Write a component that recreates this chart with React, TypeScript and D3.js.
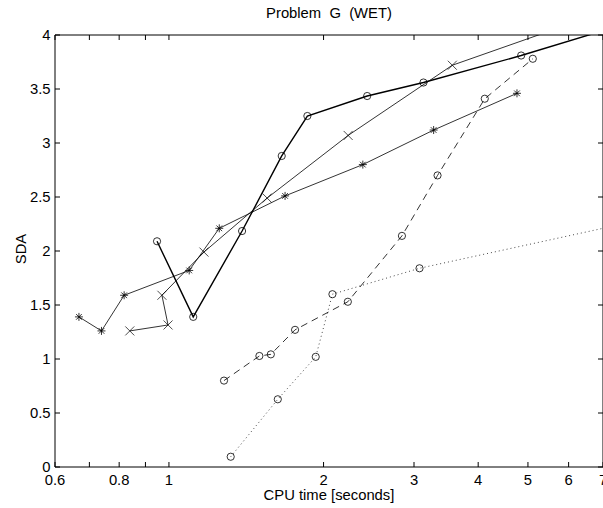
import React from "react";
import * as d3 from "d3";

const W = 603;
const H = 508;

const xTicks = [0.6, 0.7, 0.8, 0.9, 1, 2, 3, 4, 5, 6, 7];
const xTickLabels = ["0.6", "", "0.8", "", "1", "2", "3", "4", "5", "6", "7"];
const yTicks = [0, 0.5, 1, 1.5, 2, 2.5, 3, 3.5, 4];

// series A: solid thick, circles
const aX = [0.948, 1.115, 1.388, 1.658, 1.86, 2.432, 3.13, 4.85, 7.0];
const aY = [2.09, 1.39, 2.185, 2.88, 3.25, 3.435, 3.56, 3.81, 4.04];
// series B: solid thin, x-marks
const bX = [0.839, 0.996, 0.969, 1.17, 1.553, 2.233, 3.562, 7.0];
const bY = [1.26, 1.315, 1.59, 1.99, 2.49, 3.07, 3.72, 4.21];
// series C: solid thin, asterisks
const cX = [0.668, 0.739, 0.818, 1.095, 1.253, 1.683, 2.385, 3.276, 4.76];
const cY = [1.39, 1.26, 1.59, 1.82, 2.21, 2.51, 2.8, 3.12, 3.46];
// series D: dashed, circles
const dX = [1.28, 1.5, 1.579, 1.76, 2.23, 2.842, 3.334, 4.12, 5.11];
const dY = [0.8, 1.028, 1.043, 1.27, 1.53, 2.14, 2.7, 3.41, 3.78];
// series E: dotted, circles
const eX = [1.319, 1.629, 1.931, 2.081, 3.075, 8.0];
const eY = [0.095, 0.627, 1.02, 1.6, 1.84, 2.27];

const x = d3.scaleLog().domain([0.6, 7]).range([55, 603]);
const y = d3.scaleLinear().domain([0, 4]).range([467, 35]);

const font = "'Liberation Sans', Arial, Helvetica, sans-serif";
const FS = 14.8;

type Pt = [number, number];
const zip = (xs: number[], ys: number[]): Pt[] => xs.map((v, i) => [v, ys[i]]);
const line = d3
  .line<Pt>()
  .x((d) => x(d[0]))
  .y((d) => y(d[1]));

const inside = (d: Pt) => d[0] >= 0.6 && d[0] <= 7 && d[1] >= 0 && d[1] <= 4;

function Circles({ pts }: { pts: Pt[] }) {
  return (
    <g>
      {pts.filter(inside).map((d, i) => (
        <circle key={i} cx={x(d[0])} cy={y(d[1])} r={3.6} fill="none" stroke="#000" strokeWidth={0.8} />
      ))}
    </g>
  );
}

function Crosses({ pts }: { pts: Pt[] }) {
  const s = 4.5;
  return (
    <g>
      {pts.filter(inside).map((d, i) => {
        const cx = x(d[0]);
        const cy = y(d[1]);
        return (
          <path
            key={i}
            d={`M${cx - s},${cy - s}L${cx + s},${cy + s}M${cx - s},${cy + s}L${cx + s},${cy - s}`}
            stroke="#000"
            strokeWidth={0.7}
          />
        );
      })}
    </g>
  );
}

function Stars({ pts }: { pts: Pt[] }) {
  const s = 4;
  const t = s * 0.7071;
  return (
    <g>
      {pts.filter(inside).map((d, i) => {
        const cx = x(d[0]);
        const cy = y(d[1]);
        return (
          <path
            key={i}
            d={`M${cx - s},${cy}L${cx + s},${cy}M${cx},${cy - s}L${cx},${cy + s}M${cx - t},${cy - t}L${cx + t},${cy + t}M${cx - t},${cy + t}L${cx + t},${cy - t}`}
            stroke="#000"
            strokeWidth={0.8}
          />
        );
      })}
    </g>
  );
}

export default function App() {
  const A = zip(aX, aY);
  const B = zip(bX, bY);
  const C = zip(cX, cY);
  const D = zip(dX, dY);
  const E = zip(eX, eY);
  const x0 = x.range()[0];
  const x1 = x.range()[1];
  const y0 = y.range()[0];
  const y1 = y.range()[1];
  const tl = 5;
  const cx = (x0 + x1) / 2;
  return (
    <svg
      width={W}
      height={H}
      style={{ position: "absolute", left: 0, top: 0, background: "#fff" }}
      fontFamily={font}
    >
      <rect x={0} y={0} width={W} height={H} fill="#fff" />
      <defs>
        <clipPath id="plot">
          <rect x={x0} y={y1} width={x1 - x0 + 2} height={y0 - y1} />
        </clipPath>
      </defs>
      <text x={cx} y={18} textAnchor="middle" fontSize={FS} style={{ whiteSpace: "pre" }}>
        Problem{"\u00a0\u00a0"}G{"\u00a0\u00a0"}(WET)
      </text>
      <g clipPath="url(#plot)" fill="none">
        <path d={line(E) || ""} stroke="#333" strokeWidth={0.9} strokeDasharray="1,3" />
        <path d={line(D) || ""} stroke="#000" strokeWidth={0.8} strokeDasharray="7,5" />
        <path d={line(C) || ""} stroke="#000" strokeWidth={0.8} />
        <path d={line(B) || ""} stroke="#000" strokeWidth={0.8} />
        <path d={line(A) || ""} stroke="#000" strokeWidth={1.4} />
      </g>
      <Circles pts={E} />
      <Circles pts={D} />
      <Stars pts={C} />
      <Crosses pts={B} />
      <Circles pts={A} />
      {/* axes box */}
      <g stroke="#000" strokeWidth={1}>
        <line x1={x0} y1={y0} x2={x1} y2={y0} />
        <line x1={x0} y1={y1} x2={x1} y2={y1} />
        <line x1={x0} y1={y0} x2={x0} y2={y1} />
        <line x1={x1} y1={y0} x2={x1} y2={y1} />
        {xTicks.map((t, i) => (
          <g key={i}>
            <line x1={x(t)} y1={y0} x2={x(t)} y2={y0 - tl} />
            <line x1={x(t)} y1={y1} x2={x(t)} y2={y1 + tl} />
          </g>
        ))}
        {yTicks.map((t, i) => (
          <g key={i}>
            <line x1={x0} y1={y(t)} x2={x0 + tl} y2={y(t)} />
            <line x1={x1} y1={y(t)} x2={x1 - tl} y2={y(t)} />
          </g>
        ))}
      </g>
      <g fontSize={FS}>
        {xTicks.map((t, i) =>
          xTickLabels[i] ? (
            <text key={i} x={x(t)} y={485} textAnchor="middle">
              {xTickLabels[i]}
            </text>
          ) : null
        )}
        {yTicks.map((t, i) => (
          <text key={i} x={x0 - 4.5} y={y(t) + 5} textAnchor="end">
            {String(t)}
          </text>
        ))}
      </g>
      <text x={cx} y={500} textAnchor="middle" fontSize={FS}>
        CPU time [seconds]
      </text>
      <text transform={`translate(26,${249}) rotate(-90)`} textAnchor="middle" fontSize={FS}>
        SDA
      </text>
    </svg>
  );
}
